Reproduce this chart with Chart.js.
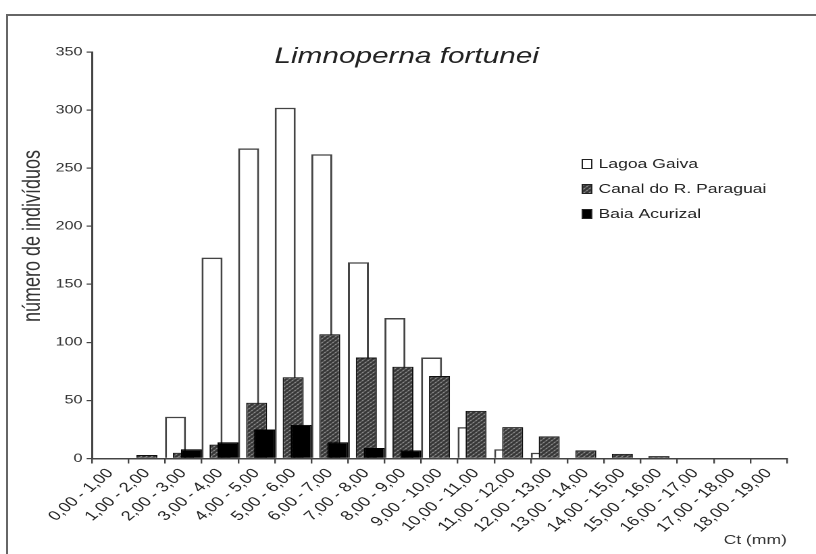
<!DOCTYPE html>
<html>
<head>
<meta charset="utf-8">
<script src="https://cdn.jsdelivr.net/npm/chart.js@4.4.0/dist/chart.umd.min.js"></script>
<style>
  html, body { margin: 0; padding: 0; background: #fff; }
  body { width: 816px; height: 554px; overflow: hidden; position: relative; }
  .frame { position: absolute; left: 6px; top: 14px; width: 830px; height: 560px; border: 2px solid #666; }
  /* the source figure is stretched sideways, so draw narrow and scale */
  .chart-box { position: absolute; left: 0; top: 0; width: 604px; height: 554px;
               transform: scaleX(1.351); transform-origin: 0 0; }
</style>
</head>
<body>
<div class="frame"></div>
<div class="chart-box"><canvas id="lengthChart"></canvas></div>
<script>
const categories = [
  "0,00 - 1,00", "1,00 - 2,00", "2,00 - 3,00", "3,00 - 4,00", "4,00 - 5,00",
  "5,00 - 6,00", "6,00 - 7,00", "7,00 - 8,00", "8,00 - 9,00", "9,00 - 10,00",
  "10,00 - 11,00", "11,00 - 12,00", "12,00 - 13,00", "13,00 - 14,00", "14,00 - 15,00",
  "15,00 - 16,00", "16,00 - 17,00", "17,00 - 18,00", "18,00 - 19,00"
];
const lagoaGaiva    = [0, 0, 36, 173, 267, 302, 262, 169, 121, 87, 27, 8, 5, 0, 0, 0, 0, 0, 0];
const canalParaguai = [0, 3, 5, 12, 48, 70, 107, 87, 79, 71, 41, 27, 19, 7, 4, 2, 0, 0, 0];
const baiaAcurizal  = [0, 0, 8, 14, 25, 29, 14, 9, 7, 0, 0, 0, 0, 0, 0, 0, 0, 0, 0];
const yMin = 0, yMax = 350, yStep = 50;

const FONT = "'Liberation Sans', Arial, sans-serif";
Chart.defaults.font.family = FONT;
Chart.defaults.color = "#222";

function makeHatch() {
  const c = document.createElement("canvas");
  c.width = 4; c.height = 4;
  const g = c.getContext("2d");
  g.fillStyle = "#333333";
  g.fillRect(0, 0, 4, 4);
  g.fillStyle = "#c4c4c4";
  g.fillRect(0, 0, 1, 1);
  g.fillRect(2, 2, 1, 1);
  g.fillStyle = "#7a7a7a";
  g.fillRect(1, 3, 1, 1);
  g.fillRect(3, 1, 1, 1);
  return g.createPattern(c, "repeat");
}
const hatch = makeHatch();

// bars overlap: the first series sits behind, the last one in front
const drawOrder = {
  id: "drawOrder",
  beforeDatasetsDraw(chart) {
    const ctx = chart.ctx, a = chart.chartArea;
    ctx.save();
    ctx.beginPath();
    ctx.rect(a.left, a.top - 5, a.right - a.left, a.bottom - a.top + 5);
    ctx.clip();
    chart.data.datasets.forEach((ds, i) => {
      const meta = chart.getDatasetMeta(i);
      if (!meta.hidden) meta.controller.draw();
    });
    ctx.restore();
    return false;
  }
};

const overlay = {
  id: "overlay",
  afterDraw(chart) {
    const ctx = chart.ctx;
    ctx.save();
    ctx.fillStyle = "#222";
    ctx.textAlign = "center";
    ctx.textBaseline = "middle";
    ctx.font = "italic 22px " + FONT;
    ctx.fillText("Limnoperna fortunei", 301, 57);

    // y axis title
    ctx.save();
    ctx.translate(24.5, 236);
    ctx.rotate(-Math.PI / 2);
    ctx.font = "18px " + FONT;
    ctx.fillStyle = "#333";
    ctx.fillText("número de indivíduos", 0, 0);
    ctx.restore();

    // legend
    const rows = [164, 189, 214];
    ctx.font = "13px " + FONT;
    ctx.textAlign = "left";
    chart.data.datasets.forEach((ds, i) => {
      const y = rows[i];
      ctx.fillStyle = ds.backgroundColor;
      ctx.fillRect(431, y - 4.5, 7, 9);
      ctx.strokeStyle = "#222";
      ctx.lineWidth = 1;
      ctx.strokeRect(431, y - 4.5, 7, 9);
      ctx.fillStyle = "#222";
      ctx.fillText(ds.label, 443, y + 0.5);
    });
    ctx.restore();
  }
};

new Chart(document.getElementById("lengthChart"), {
  type: "bar",
  data: {
    labels: categories,
    datasets: [
      { label: "Lagoa Gaiva", data: lagoaGaiva, backgroundColor: "#ffffff",
        borderColor: "#444", borderWidth: 1.5 },
      { label: "Canal do R. Paraguai", data: canalParaguai, backgroundColor: hatch,
        borderColor: "#111", borderWidth: 1 },
      { label: "Baia Acurizal", data: baiaAcurizal, backgroundColor: "#000000",
        borderColor: "#000", borderWidth: 1 }
    ]
  },
  options: {
    responsive: true,
    maintainAspectRatio: false,
    devicePixelRatio: 2,
    animation: false,
    categoryPercentage: 0.654,
    barPercentage: 2.63,
    layout: { padding: { top: 52, right: 21.5, left: 0, bottom: 0 } },
    plugins: {
      legend: { display: false },
      title: { display: false },
      tooltip: { enabled: false }
    },
    scales: {
      x: {
        grid: { drawOnChartArea: false, drawTicks: true, tickLength: 5, color: "#444", lineWidth: 1.2 },
        border: { display: true, color: "#444", width: 1.5 },
        ticks: { minRotation: 48, maxRotation: 48, autoSkip: false, padding: 2,
                 font: { size: 13.5 }, color: "#222" },
        title: { display: true, text: "Ct (mm)", align: "end", font: { size: 13 },
                 padding: { top: 6, bottom: 6 }, color: "#333" },
        afterFit(axis) { axis.height = 95.5; }
      },
      y: {
        min: yMin, max: yMax,
        grid: { drawOnChartArea: false, drawTicks: true, tickLength: 4, color: "#444", lineWidth: 1.2 },
        border: { display: true, color: "#444", width: 1.5 },
        ticks: { stepSize: yStep, padding: 3, font: { size: 12 }, color: "#333" },
        afterFit(axis) { axis.width = 68.1; }
      }
    }
  },
  plugins: [drawOrder, overlay]
});
</script>
</body>
</html>
